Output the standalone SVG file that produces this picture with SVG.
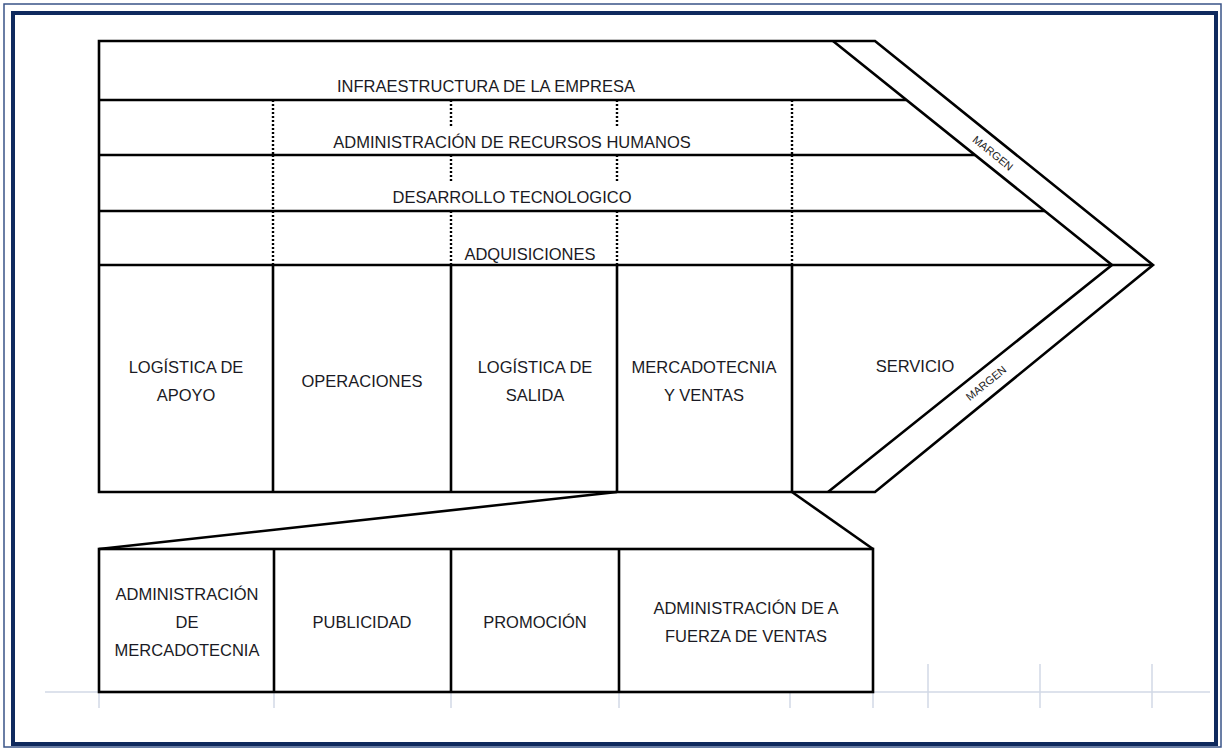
<svg xmlns="http://www.w3.org/2000/svg" width="1225" height="750" viewBox="0 0 1225 750">
<defs>
<style>
.ln{fill:none;stroke:#000;stroke-width:2.6;stroke-linejoin:miter}
.dot{fill:none;stroke:#000;stroke-width:2.4;stroke-dasharray:2 2}
.grid{fill:none;stroke:#d2d9e6;stroke-width:1.5}
.t{font-family:"Liberation Sans",Arial,sans-serif;font-size:16.5px;fill:#1a1a24;text-anchor:middle}
.m{font-family:"Liberation Sans",Arial,sans-serif;font-size:11px;fill:#222;text-anchor:middle}
</style>
</defs>
<rect width="1225" height="750" fill="#fff"/>
<g id="frame">
<rect x="4" y="4" width="1217" height="743" fill="none" stroke="#3a5488" stroke-width="1.5"/>
<rect x="13" y="13" width="1203" height="731" fill="none" stroke="#0f2a5e" stroke-width="4"/>
</g>
<g id="grid">
<path class="grid" d="M45,692 H1210 M99,692 V708 M274,692 V708 M451,692 V708 M619,692 V708 M790,692 V708 M873,692 V708 M928,664 V708 M1040,664 V708 M1152,664 V708"/>
</g>
<g id="value-chain">
<path class="ln" d="M99,41 H875 L1153,265 L875,492 H99 Z"/>
<path class="ln" d="M833,41 L1112,265 L828,492"/>
</g>
<g id="infraestructura">
<path class="ln" d="M99,100 H906"/>
<text class="t" x="486" y="92">INFRAESTRUCTURA DE LA EMPRESA</text>
</g>
<g id="recursos-humanos">
<path class="ln" d="M99,155 H975"/>
<path class="dot" d="M273,100 V155 M451,100 V128 M617,100 V128 M792,100 V155"/>
<text class="t" x="512" y="148">ADMINISTRACIÓN DE RECURSOS HUMANOS</text>
</g>
<g id="desarrollo-tecnologico">
<path class="ln" d="M99,211 H1045"/>
<path class="dot" d="M273,155 V211 M451,155 V183 M617,155 V183 M792,155 V211"/>
<text class="t" x="512" y="203">DESARROLLO TECNOLOGICO</text>
</g>
<g id="adquisiciones">
<path class="ln" d="M99,265 H1153"/>
<path class="dot" d="M273,211 V265 M451,211 V265 M617,211 V265 M792,211 V265"/>
<text class="t" x="530" y="260">ADQUISICIONES</text>
</g>
<g id="logistica-apoyo">
<path class="ln" d="M273,265 V492"/>
<text class="t" x="186" y="373">LOGÍSTICA DE</text>
<text class="t" x="186" y="401">APOYO</text>
</g>
<g id="operaciones">
<path class="ln" d="M451,265 V492"/>
<text class="t" x="362" y="387">OPERACIONES</text>
</g>
<g id="logistica-salida">
<path class="ln" d="M617,265 V492"/>
<text class="t" x="535" y="373">LOGÍSTICA DE</text>
<text class="t" x="535" y="401">SALIDA</text>
</g>
<g id="mercadotecnia-ventas">
<path class="ln" d="M792,265 V492"/>
<text class="t" x="704" y="373">MERCADOTECNIA</text>
<text class="t" x="704" y="401">Y VENTAS</text>
</g>
<g id="servicio">
<text class="t" x="915" y="372">SERVICIO</text>
</g>
<g id="margen-superior">
<text class="m" transform="translate(993,153) rotate(38.8)" dy="4">MARGEN</text>
</g>
<g id="margen-inferior">
<text class="m" transform="translate(986,383) rotate(-39)" dy="4">MARGEN</text>
</g>
<g id="connectors">
<path class="ln" d="M617,492 L99,549"/>
<path class="ln" d="M792,492 L873,549"/>
</g>
<g id="detalle">
<rect class="ln" x="99" y="549" width="774" height="143"/>
</g>
<g id="admin-mercadotecnia">
<path class="ln" d="M274,549 V692"/>
<text class="t" x="187" y="600">ADMINISTRACIÓN</text>
<text class="t" x="187" y="628">DE</text>
<text class="t" x="187" y="656">MERCADOTECNIA</text>
</g>
<g id="publicidad">
<path class="ln" d="M451,549 V692"/>
<text class="t" x="362" y="628">PUBLICIDAD</text>
</g>
<g id="promocion">
<path class="ln" d="M619,549 V692"/>
<text class="t" x="535" y="628">PROMOCIÓN</text>
</g>
<g id="fuerza-ventas">
<text class="t" x="746" y="614">ADMINISTRACIÓN DE A</text>
<text class="t" x="746" y="642">FUERZA DE VENTAS</text>
</g>
</svg>
